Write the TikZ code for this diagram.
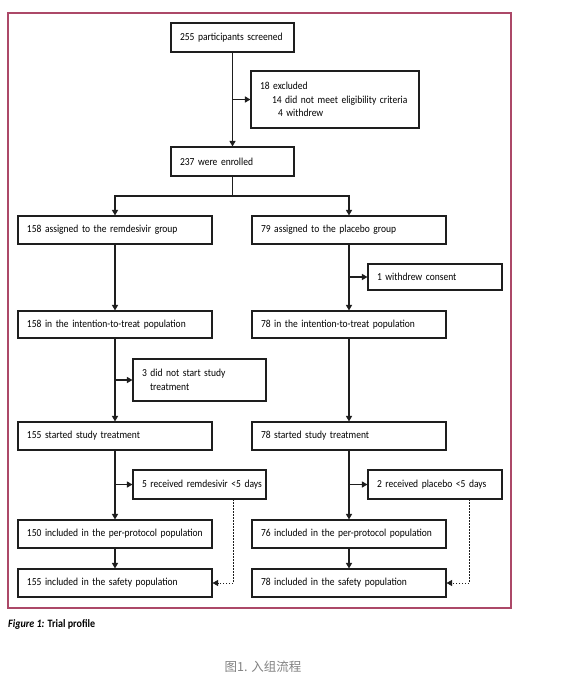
\documentclass[tikz,border=0pt]{standalone}
\usepackage{fontspec}
\setmainfont{Carlito}[FakeStretch=0.89]
\newfontfamily\cjk{Noto Sans CJK SC}
\usetikzlibrary{arrows.meta}
\definecolor{framecol}{RGB}{172,72,104}
\definecolor{capgray}{RGB}{130,130,130}
\definecolor{linecol}{RGB}{30,30,30}
\tikzset{
  bx/.style={draw=linecol, line width=1.1pt, rectangle, inner sep=0pt, align=left,
     font=\fontsize{10.7}{13.5}\selectfont},
  arr/.style={draw=linecol, line width=1.2pt, -{Triangle[length=5.5pt,width=6pt]}},
  ln/.style={draw=linecol, line width=1.2pt},
  dotarr/.style={draw=linecol, line width=0.9pt, dash pattern=on 1.5pt off 1.5pt, -{Triangle[length=5.5pt,width=6pt]}}
}
\begin{document}
\begin{tikzpicture}[x=1pt,y=-1pt]
\useasboundingbox (0,0) rectangle (564,685);
\fill[white] (0,0) rectangle (564,685);
\draw[framecol, line width=1.2pt] (8,13) rectangle (511,608);

\node[bx, minimum width=123pt, minimum height=29pt, text width=105pt] (scr) at (232.5,37.5) {\mbox{255 participants screened}};
\node[bx, minimum width=168pt, minimum height=57pt, text width=150pt] (exc) at (335,99.5) {18 excluded\\\mbox{\hspace*{12pt}14 did not meet eligibility criteria}\\\hspace*{18pt}4 withdrew};
\node[bx, minimum width=123pt, minimum height=29pt, text width=105pt] (enr) at (232.5,161.5) {237 were enrolled};

\node[bx, minimum width=194pt, minimum height=28pt, text width=176pt] (remA) at (115,230) {\mbox{158 assigned to the remdesivir group}};
\node[bx, minimum width=194pt, minimum height=28pt, text width=176pt] (plaA) at (349,230) {\mbox{79 assigned to the placebo group}};
\node[bx, minimum width=134pt, minimum height=26pt, text width=116pt] (wd) at (435,277) {\mbox{1 withdrew consent}};

\node[bx, minimum width=194pt, minimum height=27pt, text width=176pt] (remI) at (115,324.5) {\mbox{158 in the intention-to-treat population}};
\node[bx, minimum width=194pt, minimum height=27pt, text width=176pt] (plaI) at (349,324.5) {\mbox{78 in the intention-to-treat population}};
\node[bx, minimum width=133pt, minimum height=42pt, text width=115pt] (dns) at (199.5,380) {3 did not start study\\\hspace*{8pt}treatment};

\node[bx, minimum width=194pt, minimum height=28pt, text width=176pt] (remS) at (115,436) {\mbox{155 started study treatment}};
\node[bx, minimum width=194pt, minimum height=28pt, text width=176pt] (plaS) at (349,436) {\mbox{78 started study treatment}};
\node[bx, minimum width=133pt, minimum height=29pt, text width=115pt] (r5) at (199.5,484.5) {\mbox{5 received remdesivir <5 days}};
\node[bx, minimum width=134pt, minimum height=29pt, text width=116pt] (p2) at (435,484.5) {\mbox{2 received placebo <5 days}};

\node[bx, minimum width=194pt, minimum height=28pt, text width=176pt] (remP) at (115,534) {\mbox{150 included in the per-protocol population}};
\node[bx, minimum width=194pt, minimum height=28pt, text width=176pt] (plaP) at (349,534) {\mbox{76 included in the per-protocol population}};
\node[bx, minimum width=194pt, minimum height=28pt, text width=176pt] (remF) at (115,583) {\mbox{155 included in the safety population}};
\node[bx, minimum width=194pt, minimum height=28pt, text width=176pt] (plaF) at (349,583) {\mbox{78 included in the safety population}};

% connectors
\draw[arr] (scr) -- (enr);
\draw[arr] (scr.south |- exc.west) -- (exc.west);
\coordinate (split) at (232.5,196);
\draw[ln] (enr.south) -- (split);
\draw[arr] (split) -| (remA.north);
\draw[arr] (split) -| (plaA.north);

\draw[arr] (remA) -- (remI);
\draw[arr] (plaA) -- (plaI);
\draw[arr] (plaA.south |- wd.west) -- (wd.west);

\draw[arr] (remI) -- (remS);
\draw[arr] (plaI) -- (plaS);
\draw[arr] (remI.south |- dns.west) -- (dns.west);

\draw[arr] (remS) -- (remP);
\draw[arr] (plaS) -- (plaP);
\draw[arr] (remS.south |- r5.west) -- (r5.west);
\draw[arr] (plaS.south |- p2.west) -- (p2.west);

\draw[arr] (remP) -- (remF);
\draw[arr] (plaP) -- (plaF);

\coordinate (d1) at (233,499);
\coordinate (d2) at (469,499);
\draw[dotarr] (d1) |- (remF.east);
\draw[dotarr] (d2) |- (plaF.east);

\node[anchor=west, inner sep=0pt, font=\fontsize{11.3}{12}\selectfont\bfseries] (cap) at (8,624) {\textit{Figure 1:} Trial profile};
\node[inner sep=0pt, text=capgray, font=\cjk\fontsize{12.5}{14}\selectfont] (cn) at (263,667) {图1. 入组流程};
\end{tikzpicture}
\end{document}
